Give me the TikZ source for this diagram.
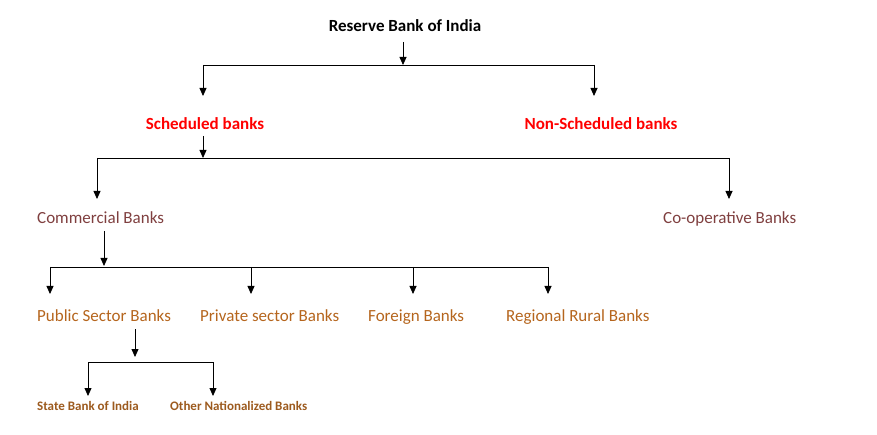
\documentclass[tikz,border=0pt]{standalone}
\usepackage{fontspec}
\setmainfont{Carlito}
\usetikzlibrary{arrows.meta}
\definecolor{maroon}{HTML}{7F3F3F}
\definecolor{orng}{HTML}{B5651D}
\definecolor{brn}{HTML}{9C5A1E}
\begin{document}
\begin{tikzpicture}[x=1pt,y=-1pt,
  lbl/.style={inner sep=0pt,anchor=base,font=\fontsize{17}{20}\selectfont},
  ttl/.style={lbl,font=\fontsize{17}{20}\selectfont\bfseries},
  red/.style={ttl,text=red},
  l3/.style={lbl,text=maroon},
  l4/.style={lbl,text=orng},
  l5/.style={lbl,font=\fontsize{13}{16}\selectfont\bfseries,text=brn},
  arr/.style={-{Triangle[width=7pt,length=8pt]},line width=0.8pt},
  ln/.style={line width=0.8pt}]
\useasboundingbox (0,0) rectangle (877,435);
\node[ttl] (rbi) at (405,32) {Reserve Bank of India};
\node[red] (sch) at (205,130) {Scheduled banks};
\node[red] (non) at (601,130) {Non-Scheduled banks};
\node[l3,anchor=base west] (com) at (37,224) {Commercial Banks};
\node[l3,anchor=base west] (coop) at (663,224) {Co-operative Banks};
\node[l4,anchor=base west] (pub) at (37,321) {Public Sector Banks};
\node[l4,anchor=base west] (pri) at (200,321) {Private sector Banks};
\node[l4,anchor=base west] (for) at (368,321) {Foreign Banks};
\node[l4,anchor=base west] (rrb) at (506,321) {Regional Rural Banks};
\node[l5,anchor=base west] (sbi) at (37,410) {State Bank of India};
\node[l5,anchor=base west] (oth) at (170,410) {Other Nationalized Banks};
% level 1
\coordinate (h1) at (403,65);
\draw[arr] (403,42) -- (h1);
\draw[ln] (203,65) -- (594,65);
\draw[arr] (203,65) -- (203,96);
\draw[arr] (594,65) -- (594,96);
% level 2
\coordinate (h2) at (203,158);
\draw[arr] (203,136) -- (h2);
\draw[ln] (97,158) -- (729,158);
\draw[arr] (97,158) -- (97,199);
\draw[arr] (729,158) -- (729,199);
% level 3
\draw[arr] (104,231) -- (104,266);
\draw[ln] (50,267) -- (548,267);
\foreach \x in {50,251,413,548} \draw[arr] (\x,267) -- (\x,294);
% level 4
\draw[arr] (135,329) -- (135,357);
\draw[ln] (88,362) -- (213,362);
\foreach \x in {88,213} \draw[arr] (\x,362) -- (\x,396);
\end{tikzpicture}
\end{document}
